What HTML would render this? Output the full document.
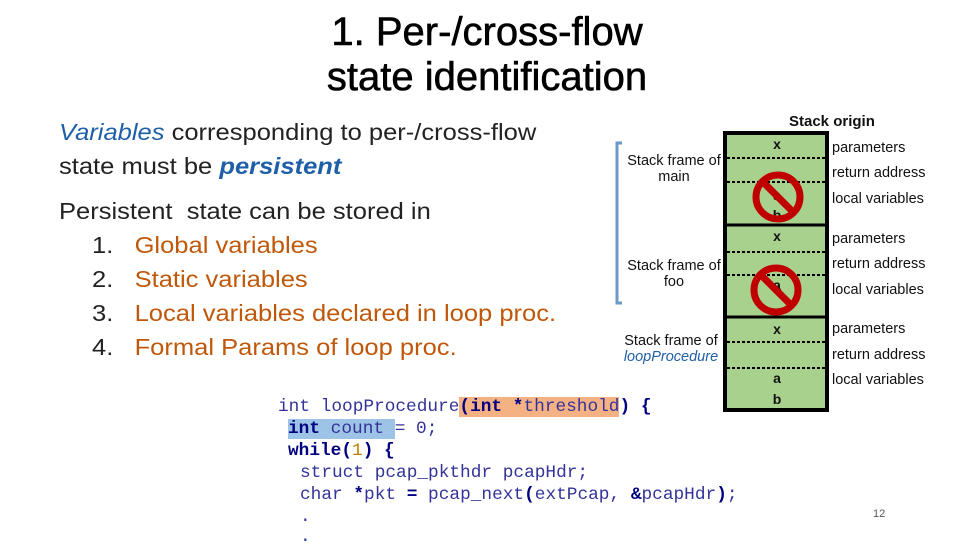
<!DOCTYPE html>
<html><head><style>
body{margin:0;width:960px;height:540px;background:#fff;position:relative;overflow:hidden;font-family:"Liberation Sans",sans-serif}
.a{position:absolute;white-space:nowrap}
.t{font-size:40px;text-align:center;width:960px;left:7px;line-height:45px;-webkit-text-stroke:0.6px #000}
.b{font-size:23px;color:#222;transform:scaleX(1.11);transform-origin:0 0}
.o{color:#c0580a}
.s{font-size:14.5px;color:#111}
.c{font-family:"Liberation Mono",monospace;font-size:17.8px;color:#333399}
.k{color:#000080;font-weight:bold}
</style></head><body>
<div class="a t" style="top:10px">1. Per-/cross-flow<br>state identification</div>
<div class="a b" style="left:59px;top:119px"><i style="color:#1f5fa8">Variables</i> corresponding to per-/cross-flow</div>
<div class="a b" style="left:59px;top:153px">state must be <i style="color:#1f5fa8;font-weight:bold">persistent</i></div>
<div class="a b" style="left:59px;top:198px">Persistent&nbsp; state can be stored in</div>
<div class="a b" style="left:92px;top:232px">1.&nbsp;&nbsp;&nbsp;<span class="o">Global variables</span></div>
<div class="a b" style="left:92px;top:266px">2.&nbsp;&nbsp;&nbsp;<span class="o">Static variables</span></div>
<div class="a b" style="left:92px;top:300px">3.&nbsp;&nbsp;&nbsp;<span class="o">Local variables declared in loop proc.</span></div>
<div class="a b" style="left:92px;top:334px">4.&nbsp;&nbsp;&nbsp;<span class="o">Formal Params of loop proc.</span></div>

<svg class="a" style="left:0;top:0" width="960" height="540">
<path d="M622 143 H617 V303 H622" stroke="#6a9ac8" stroke-width="3" fill="none"/>
<rect x="725" y="133" width="102" height="277" fill="#a9d18e" stroke="#000" stroke-width="4"/>
<line x1="725" y1="225" x2="827" y2="225" stroke="#000" stroke-width="3"/>
<line x1="725" y1="317" x2="827" y2="317" stroke="#000" stroke-width="3"/>
<g stroke="#000" stroke-width="2" stroke-dasharray="3,2">
<line x1="727" y1="158" x2="825" y2="158"/><line x1="727" y1="182" x2="825" y2="182"/>
<line x1="727" y1="252" x2="825" y2="252"/><line x1="727" y1="275" x2="825" y2="275"/>
<line x1="727" y1="342" x2="825" y2="342"/><line x1="727" y1="368" x2="825" y2="368"/>
</g>
<g font-family="Liberation Sans" font-size="14" text-anchor="middle" fill="#111" font-weight="bold">
<text x="777" y="149">x</text><text x="777" y="200">a</text><text x="777" y="220">b</text>
<text x="777" y="241">x</text><text x="777" y="290">a</text>
<text x="777" y="334">x</text><text x="777" y="383">a</text><text x="777" y="404">b</text>
</g>
<g stroke="#c00000" stroke-width="7" fill="none">
<circle cx="778" cy="197" r="22"/><line x1="763" y1="182" x2="793" y2="212"/>
<circle cx="776" cy="290" r="22"/><line x1="761" y1="275" x2="791" y2="305"/>
</g>
</svg>
<div class="a s" style="left:789px;top:113px;font-size:15px;font-weight:bold">Stack origin</div>
<div class="a s" style="left:832px;top:140px">parameters</div>
<div class="a s" style="left:832px;top:165px">return address</div>
<div class="a s" style="left:832px;top:191px">local variables</div>
<div class="a s" style="left:832px;top:231px">parameters</div>
<div class="a s" style="left:832px;top:256px">return address</div>
<div class="a s" style="left:832px;top:282px">local variables</div>
<div class="a s" style="left:832px;top:321px">parameters</div>
<div class="a s" style="left:832px;top:347px">return address</div>
<div class="a s" style="left:832px;top:372px">local variables</div>
<div class="a s" style="left:622px;top:153px;text-align:center;width:104px">Stack frame of<br>main</div>
<div class="a s" style="left:622px;top:258px;text-align:center;width:104px">Stack frame of<br>foo</div>
<div class="a s" style="left:616px;top:333px;text-align:center;width:110px">Stack frame of<br><i style="color:#1f5fa8">loopProcedure</i></div>

<div class="a c" style="left:278px;top:397px">int loopProcedure<span style="background:#f4b183"><b class="k">(int</b> <b class="k">*</b>threshold</span><b class="k">)</b> <b class="k">{</b></div>
<div class="a c" style="left:288px;top:419px"><span style="background:#9dc3e6"><b class="k">int</b> count </span>= 0;</div>
<div class="a c" style="left:288px;top:441px"><b class="k">while(</b><span style="color:#c08000">1</span><b class="k">)</b> <b class="k">{</b></div>
<div class="a c" style="left:300px;top:463px">struct pcap_pkthdr pcapHdr;</div>
<div class="a c" style="left:300px;top:485px">char <b class="k">*</b>pkt <b class="k">=</b> pcap_next<b class="k">(</b>extPcap, <b class="k">&amp;</b>pcapHdr<b class="k">)</b>;</div>
<div class="a c" style="left:300px;top:507px">.</div>
<div class="a c" style="left:300px;top:527px">.</div>
<div class="a" style="left:873px;top:508px;font-size:11px;color:#555">12</div>
</body></html>
